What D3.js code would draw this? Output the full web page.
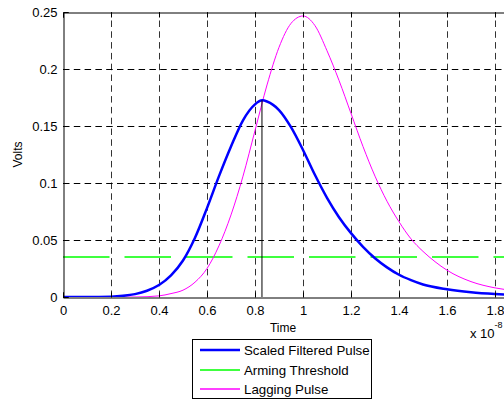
<!DOCTYPE html>
<html>
<head>
<meta charset="utf-8">
<script src="https://cdn.jsdelivr.net/npm/d3@7"></script>
<style>
  body { margin: 0; background: #fff; overflow: hidden; }
  svg { display: block; font-family: "Liberation Sans", Arial, sans-serif; }
</style>
</head>
<body>
<svg></svg>
<script>
// time in units of 1e-8 s
let pulseTime = [0, 0.1, 0.2, 0.25, 0.3, 0.35, 0.4, 0.45, 0.5, 0.55, 0.6, 0.65, 0.7, 0.75, 0.8, 0.83, 0.85, 0.9, 0.95, 1.0, 1.05, 1.1, 1.15, 1.2, 1.25, 1.3, 1.35, 1.4, 1.45, 1.5, 1.6, 1.7, 1.8, 1.9, 2.0];
let scaledPulse = [0, 0, 0.0003, 0.001, 0.0025, 0.0055, 0.0105, 0.019, 0.032, 0.052, 0.078, 0.106, 0.132, 0.155, 0.169, 0.1725, 0.1715, 0.164, 0.149, 0.129, 0.107, 0.087, 0.07, 0.056, 0.044, 0.034, 0.026, 0.0195, 0.0148, 0.011, 0.0068, 0.0042, 0.0026, 0.0016, 0.001];
let lagTime = [0, 0.2, 0.3, 0.4, 0.45, 0.5, 0.55, 0.6, 0.65, 0.7, 0.75, 0.8, 0.85, 0.9, 0.95, 1.0, 1.05, 1.1, 1.15, 1.2, 1.25, 1.3, 1.35, 1.4, 1.45, 1.5, 1.55, 1.6, 1.7, 1.8, 1.9, 2.0];
let laggingPulse = [0, 0, 0, 0.001, 0.003, 0.006, 0.013, 0.025, 0.045, 0.072, 0.106, 0.146, 0.186, 0.219, 0.24, 0.2465, 0.238, 0.216, 0.19, 0.161, 0.132, 0.106, 0.084, 0.066, 0.051, 0.04, 0.031, 0.0235, 0.0135, 0.008, 0.005, 0.003];
let armingLevel = 0.035;
let peakTime = 0.829;
let peakValue = 0.1725;

let xTicks = [0, 0.2, 0.4, 0.6, 0.8, 1, 1.2, 1.4, 1.6, 1.8, 2];
let yTicks = [0, 0.05, 0.1, 0.15, 0.2, 0.25];
let legendLabels = ['Scaled Filtered Pulse', 'Arming Threshold', 'Lagging Pulse'];
let legendColors = ['#0000ff', '#00ff00', '#ff00ff'];

let width = 504;
let height = 400;
let padLeft = 63, padRight = 543, padTop = 12, padBottom = 297;

const svg = d3.select('svg').attr('width', width).attr('height', height);

let xScale = d3.scaleLinear().domain([0, 2]).range([padLeft, padRight]);
let yScale = d3.scaleLinear().domain([0, 0.25]).range([padBottom, padTop]);

svg.append('defs').append('clipPath').attr('id', 'plot')
   .append('rect').attr('x', padLeft).attr('y', padTop)
   .attr('width', padRight - padLeft).attr('height', padBottom - padTop);

// grid
svg.append('g').selectAll('line')
   .data(xTicks.filter(d => d > 0 && d < 2))
   .enter().append('line')
   .attr('x1', d => Math.round(xScale(d)) + 0.5).attr('x2', d => Math.round(xScale(d)) + 0.5)
   .attr('y1', padBottom).attr('y2', padTop)
   .attr('stroke', '#333').attr('stroke-dasharray', '6.5 4.3');

svg.append('g').selectAll('line')
   .data(yTicks.filter(d => d > 0 && d < 0.25))
   .enter().append('line')
   .attr('x1', padLeft).attr('x2', width)
   .attr('y1', d => Math.round(yScale(d)) + 0.5).attr('y2', d => Math.round(yScale(d)) + 0.5)
   .attr('stroke', '#000').attr('stroke-dasharray', '6.5 4.3');

// curves
let plot = svg.append('g').attr('clip-path', 'url(#plot)');

let line = d3.line().x(d => xScale(d[0])).y(d => yScale(d[1])).curve(d3.curveMonotoneX);
let flatLine = d3.line().x(d => xScale(d[0])).y(d => Math.round(yScale(d[1])));

plot.append('path')
    .datum(xTicks.filter(d => d === 0 || d === 2).map(t => [t, armingLevel]))
    .attr('d', flatLine)
    .attr('fill', 'none').attr('stroke', legendColors[1]).attr('stroke-width', 1.5)
    .attr('stroke-dasharray', '46.5 15');

plot.append('path')
    .datum(lagTime.map((t, i) => [t, laggingPulse[i]]))
    .attr('d', line)
    .attr('fill', 'none').attr('stroke', legendColors[2]).attr('stroke-width', 1);

plot.append('path')
    .datum(pulseTime.map((t, i) => [t, scaledPulse[i]]))
    .attr('d', line)
    .attr('fill', 'none').attr('stroke', legendColors[0]).attr('stroke-width', 2.5);

plot.append('line')
    .attr('x1', xScale(peakTime)).attr('x2', xScale(peakTime))
    .attr('y1', yScale(0)).attr('y2', yScale(peakValue))
    .attr('stroke', '#000').attr('stroke-width', 1);

// axes
let xAxis = d3.axisBottom(xScale).tickValues(xTicks).tickSize(-5).tickPadding(8).tickFormat(d3.format('~g'));
let yAxis = d3.axisLeft(yScale).tickValues(yTicks).tickSize(-5).tickPadding(6).tickFormat(d3.format('~g'));

svg.append('g').attr('transform', 'translate(0,' + (padBottom + 0.5) + ')').call(xAxis);
svg.append('g').attr('transform', 'translate(' + (padLeft + 0.5) + ',0)').call(yAxis);
svg.append('g').attr('transform', 'translate(0,' + (padTop + 0.5) + ')')
   .call(d3.axisTop(xScale).tickValues(xTicks).tickSize(-5).tickFormat(''));

svg.selectAll('.domain').attr('stroke', '#000').attr('stroke-width', 1);
svg.selectAll('.tick text').attr('font-size', 13).attr('fill', '#000')
   .attr('font-family', '"Liberation Sans", Arial, sans-serif');

svg.append('text').attr('x', 283).attr('y', 332).attr('text-anchor', 'middle')
   .attr('font-size', 12).text('Time');
svg.append('text').attr('transform', 'translate(22,' + ((padTop + padBottom) / 2) + ') rotate(-90)')
   .attr('text-anchor', 'middle').attr('font-size', 12).text('Volts');

let expo = svg.append('text').attr('x', 470).attr('y', 338).attr('font-size', 13);
expo.append('tspan').text('x 10');
expo.append('tspan').attr('dy', -10).attr('font-size', 9).text('-8');

// legend
let legend = svg.append('g').attr('transform', 'translate(192,339)');
legend.append('rect').attr('x', 0.5).attr('y', 0.5).attr('width', 179).attr('height', 59)
   .attr('fill', '#fff').attr('stroke', '#000');
let rows = legend.selectAll('g.row').data(legendLabels).enter().append('g')
   .attr('transform', (d, i) => 'translate(0,' + (11 + i * 19.5) + ')');
rows.append('line').attr('x1', 8).attr('x2', 48)
   .attr('y1', (d, i) => (i % 2) * 0.5).attr('y2', (d, i) => (i % 2) * 0.5)
   .attr('stroke', (d, i) => legendColors[i]).attr('stroke-width', (d, i) => i === 0 ? 2.5 : 1.5);
rows.append('text').attr('x', 52).attr('y', 5).attr('font-size', 13.3).text(d => d);
</script>
</body>
</html>
